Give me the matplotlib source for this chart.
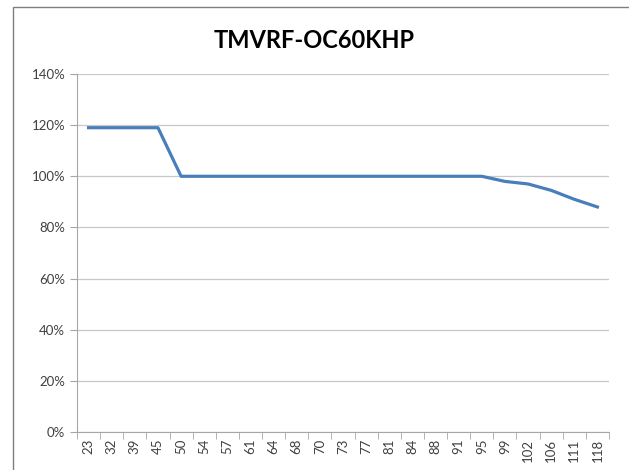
import matplotlib
matplotlib.use("Agg")
from matplotlib import pyplot as plt
from matplotlib.patches import Rectangle
import numpy as np

plt.rcParams['font.family'] = ['Lato', 'DejaVu Sans']

# Dados
categorias = ["23", "32", "39", "45", "50", "54", "57", "61", "64", "68", "70", "73",
              "77", "81", "84", "88", "91", "95", "99", "102", "106", "111", "118"]
valores = [119, 119, 119, 119, 100, 100, 100, 100, 100, 100, 100, 100,
           100, 100, 100, 100, 100, 100, 98, 97, 94.5, 91, 88]
ticks_y = [0, 20, 40, 60, 80, 100, 120, 140]

fig = plt.figure(figsize=(6.29, 4.70), dpi=100)
ax = fig.add_axes([77 / 629, 1 - 432 / 470, (609 - 77) / 629, (432 - 74) / 470])

# borda externa do gráfico
fig.patches.append(Rectangle((13 / 629, -0.1), 1.2, 1 - 7 / 470 + 0.1,
                             transform=fig.transFigure, fill=False,
                             edgecolor="#7f7f7f", linewidth=1.0))

x = np.arange(len(categorias))
ax.plot(x, valores, color="#4a7ebb", linewidth=2.3, solid_joinstyle="round")

ax.set_xlim(-0.5, len(categorias) - 0.5)
ax.set_ylim(0, 140)
ax.set_yticks(ticks_y)
ax.set_yticklabels([f"{t}%" for t in ticks_y])
ax.set_xticks(x)
ax.set_xticklabels(categorias, rotation=90)
ax.set_xticks(np.arange(len(categorias) + 1) - 0.5, minor=True)

ax.grid(axis="y", color="#c8c8c8", linewidth=0.9)
ax.set_axisbelow(True)
for lado in ["top", "right"]:
  ax.spines[lado].set_visible(False)
ax.spines["left"].set_color("#a6a6a6")
ax.spines["bottom"].set_color("#a6a6a6")

ax.tick_params(axis="x", which="major", length=0, labelsize=9.5, labelcolor="#404040", pad=5)
ax.tick_params(axis="x", which="minor", length=5, color="#a6a6a6")
ax.tick_params(axis="y", length=5, color="#a6a6a6", labelsize=9.5, labelcolor="#404040")

fig.text(0.5, 1 - 40 / 470, "TMVRF-OC60KHP", ha="center", va="center",
         fontsize=17, fontweight="bold", color="#000000")

plt.savefig("out.png")
